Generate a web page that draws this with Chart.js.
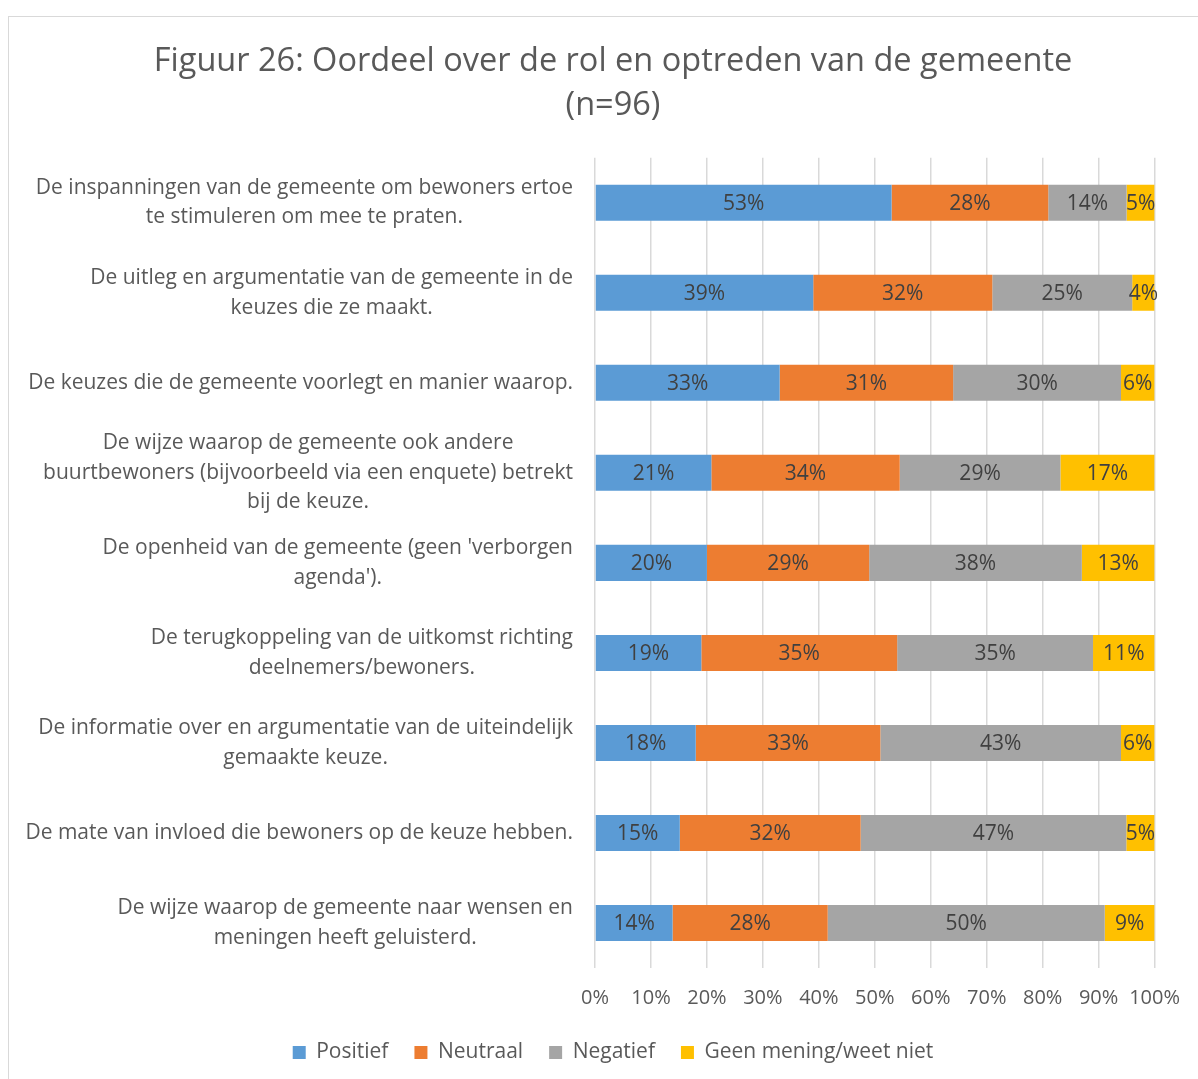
<!DOCTYPE html>
<html lang="nl">
<head>
<meta charset="UTF-8">
<title>Figuur 26: Oordeel over de rol en optreden van de gemeente</title>
<script src="https://cdn.jsdelivr.net/npm/chart.js"></script>
<style>
    html, body { margin: 0; padding: 0; background: #fff; overflow: hidden; }
    .frame { position: absolute; left: 8px; top: 16px; width: 1300px; height: 1200px;
             border-left: 1px solid #d9d9d9; border-top: 1px solid #d9d9d9; }
    .wrap { position: absolute; left: 0; top: 0; width: 1198px; height: 1079px; }
</style>
</head>
<body>
<div class="frame"></div>
<div class="wrap"><canvas id="chart"></canvas></div>

<script>
// vragen (regels zoals in de figuur afgebroken)
const categories = [
    ["De inspanningen van de gemeente om bewoners ertoe", "te stimuleren om mee te praten."],
    ["De uitleg en argumentatie van de gemeente in de", "keuzes die ze maakt."],
    ["De keuzes die de gemeente voorlegt en manier waarop."],
    ["De wijze waarop de gemeente ook andere", "buurtbewoners (bijvoorbeeld via een enquete) betrekt", "bij de keuze."],
    ["De openheid van de gemeente (geen 'verborgen", "agenda')."],
    ["De terugkoppeling van de uitkomst richting", "deelnemers/bewoners."],
    ["De informatie over en argumentatie van de uiteindelijk", "gemaakte keuze."],
    ["De mate van invloed die bewoners op de keuze hebben."],
    ["De wijze waarop de gemeente naar wensen en", "meningen heeft geluisterd."]
];

const seriesNames = ["Positief", "Neutraal", "Negatief", "Geen mening/weet niet"];
const positief   = [53, 39, 33, 21, 20, 19, 18, 15, 14];
const neutraal   = [28, 32, 31, 34, 29, 35, 33, 32, 28];
const negatief   = [14, 25, 30, 29, 38, 35, 43, 47, 50];
const geenMening = [5, 4, 6, 17, 13, 11, 6, 5, 9];
const xTicks = [0, 10, 20, 30, 40, 50, 60, 70, 80, 90, 100];

const colors = ['#5B9BD5', '#ED7D31', '#A5A5A5', '#FFC000'];
const FONT = "'Open Sans', sans-serif";
const TEXT = '#595959';

const series = [positief, neutraal, negatief, geenMening];
// 100% gestapeld: elke rij schalen naar zijn totaal
const totals = categories.map((c, i) => series.reduce((s, arr) => s + arr[i], 0));

const datasets = series.map((arr, k) => ({
    label: seriesNames[k],
    data: arr.map((v, i) => v / totals[i] * 100),
    raw: arr,
    backgroundColor: colors[k],
    borderWidth: 0,
    barPercentage: 0.4,
    categoryPercentage: 1
}));

// percentages in de balken
const barLabels = {
    id: 'barLabels',
    afterDatasetsDraw(chart) {
        const ctx = chart.ctx;
        ctx.save();
        ctx.font = '21px ' + FONT;
        ctx.fillStyle = '#404040';
        ctx.textAlign = 'center';
        ctx.textBaseline = 'middle';
        chart.data.datasets.forEach((ds, k) => {
            chart.getDatasetMeta(k).data.forEach((el, i) => {
                ctx.fillText(ds.raw[i] + '%', (el.x + el.base) / 2, el.y + 1);
            });
        });
        ctx.restore();
    }
};

// categorie-labels: blok rechts uitgelijnd, regels gecentreerd
const catLabels = {
    id: 'catLabels',
    afterDraw(chart) {
        const ctx = chart.ctx;
        const yScale = chart.scales.y;
        const right = 573;
        const lh = 29.5;
        ctx.save();
        ctx.font = '21px ' + FONT;
        ctx.fillStyle = TEXT;
        ctx.textAlign = 'center';
        ctx.textBaseline = 'middle';
        categories.forEach((lines, i) => {
            const yc = yScale.getPixelForValue(i);
            const w = Math.max(...lines.map(l => ctx.measureText(l).width));
            const xc = right - w / 2;
            const y0 = yc - (lines.length - 1) * lh / 2;
            lines.forEach((l, j) => ctx.fillText(l, xc, y0 + j * lh));
        });
        ctx.restore();
    }
};

new Chart(document.getElementById('chart'), {
    type: 'bar',
    data: { labels: categories.map(l => l.join(' ')), datasets: datasets },
    options: {
        indexAxis: 'y',
        responsive: true,
        maintainAspectRatio: false,
        animation: false,
        layout: { padding: { left: 64, right: 36, top: 0, bottom: 6 } },
        scales: {
            x: {
                stacked: true,
                min: 0,
                max: 100,
                afterBuildTicks(scale) { scale.ticks = xTicks.map(v => ({ value: v })); },
                afterFit(scale) { scale.height -= 12; },
                grid: { color: '#d9d9d9', lineWidth: 1.5, drawTicks: false },
                border: { display: false },
                ticks: {
                    color: TEXT,
                    font: { family: FONT, size: 20 },
                    padding: 18,
                    maxRotation: 0,
                    minRotation: 0,
                    autoSkip: false,
                    callback: v => v + '%'
                }
            },
            y: {
                stacked: true,
                grid: { display: false },
                border: { display: false },
                ticks: { display: false },
                afterFit(scale) { scale.width = 531; }
            }
        },
        plugins: {
            title: {
                display: true,
                text: ['Figuur 26: Oordeel over de rol en optreden van de gemeente', '(n=96)'],
                color: TEXT,
                font: { family: FONT, size: 32.5, weight: 'normal', lineHeight: 1.35 },
                padding: { top: 40, bottom: 30 }
            },
            legend: {
                position: 'bottom',
                labels: {
                    color: TEXT,
                    font: { family: FONT, size: 21 },
                    boxWidth: 13,
                    boxHeight: 13,
                    padding: 26
                }
            },
            tooltip: { enabled: false }
        }
    },
    plugins: [barLabels, catLabels]
});
</script>
</body>
</html>
